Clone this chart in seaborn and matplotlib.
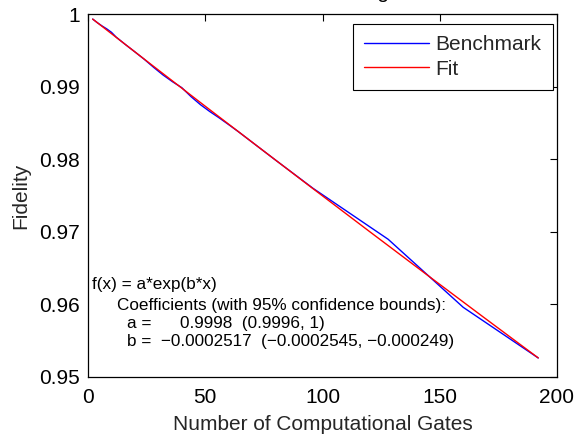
import matplotlib
matplotlib.use("Agg")
import matplotlib.pyplot as plt
import seaborn as sns
import pandas as pd
from matplotlib.lines import Line2D

# ---- data ----
gates = [2, 4, 6, 8, 10, 12, 16, 20, 24, 28, 32, 36, 40, 44, 48, 52, 56, 60, 64, 80, 96, 128, 160, 192]
benchmark = [0.99930, 0.99880, 0.99835, 0.99795, 0.99748, 0.99682, 0.99578, 0.99478,
             0.99376, 0.99265, 0.99160, 0.99068, 0.98985, 0.98860, 0.98750, 0.98655,
             0.98568, 0.98476, 0.98382, 0.97987, 0.97598, 0.96897, 0.95960, 0.95262]
fit_gates = [2, 24, 48, 72, 96, 120, 144, 168, 192]
fit_values = [0.99930, 0.99378, 0.98779, 0.98185, 0.97593, 0.97005, 0.96421, 0.95840, 0.95263]

x_ticks = [0, 50, 100, 150, 200]
y_ticks = [0.95, 0.96, 0.97, 0.98, 0.99, 1.0]
y_tick_labels = ["0.95", "0.96", "0.97", "0.98", "0.99", "1"]

fit_text = [
    "f(x) = a*exp(b*x)",
    "Coefficients (with 95% confidence bounds):",
    "a =      0.9998  (0.9996, 1)",
    "b =  \u22120.0002517  (\u22120.0002545, \u22120.000249)",
]
title = "Benchmarking"

df = pd.concat([
    pd.DataFrame({"Gates": gates, "Fidelity": benchmark, "Series": "Benchmark"}),
    pd.DataFrame({"Gates": fit_gates, "Fidelity": fit_values, "Series": "Fit"}),
], ignore_index=True)

sns.set_style("white")
plt.rcParams["font.family"] = ["Liberation Sans", "DejaVu Sans"]
plt.rcParams["xtick.direction"] = "in"
plt.rcParams["ytick.direction"] = "in"

W, H = 577, 434
fig = plt.figure(figsize=(W / 100, H / 100), dpi=100)
L, R, T, B = 88, 557, 14, 377
ax = fig.add_axes([L / W, 1 - B / H, (R - L) / W, (B - T) / H])

sns.lineplot(data=df, x="Gates", y="Fidelity", hue="Series",
             palette={"Benchmark": "#0000ff", "Fit": "#ff0000"},
             linewidth=1.0, ax=ax, legend=False, estimator=None, sort=False)

ax.set_xlim(0, 200)
ax.set_ylim(0.95, 1.0)
ax.set_xticks(x_ticks)
ax.set_xticklabels([str(t) for t in x_ticks])
ax.set_yticks(y_ticks)
ax.set_yticklabels(y_tick_labels)
ax.tick_params(axis="both", which="both", direction="in", length=5, width=0.8,
               labelsize=15, top=True, right=True, pad=6, colors="black")
ax.tick_params(axis="x", pad=8)
for s in ax.spines.values():
    s.set_visible(True)
    s.set_color("black")
    s.set_linewidth(0.9)

ax.set_xlabel("Number of Computational Gates", fontsize=15, labelpad=6)
ax.set_ylabel("Fidelity", fontsize=15, labelpad=6)

handles = [Line2D([], [], color="#0000ff", lw=1.0), Line2D([], [], color="#ff0000", lw=1.0)]
leg = ax.legend(handles, ["Benchmark", "Fit"], loc="upper right",
                bbox_to_anchor=((553 - L) / (R - L), 1 - (24 - T) / (B - T)),
                fontsize=15, frameon=True, fancybox=False, framealpha=1,
                edgecolor="black", handlelength=3.1, handletextpad=0.33,
                labelspacing=0.25, borderpad=0.55, borderaxespad=0.0)
leg.get_frame().set_linewidth(0.8)

# fit annotation
xs = [92, 117, 127, 127]
ys = [285, 305.5, 323.5, 341.5]
for s, x, y in zip(fit_text, xs, ys):
    fig.text(x / W, 1 - y / H, s, fontsize=12.3, ha="left", va="center", color="black")

fig.text(322 / W, 1 + 2 / H, title, fontsize=15, ha="center", va="baseline", color="black")

fig.savefig("out.png", dpi=100)
